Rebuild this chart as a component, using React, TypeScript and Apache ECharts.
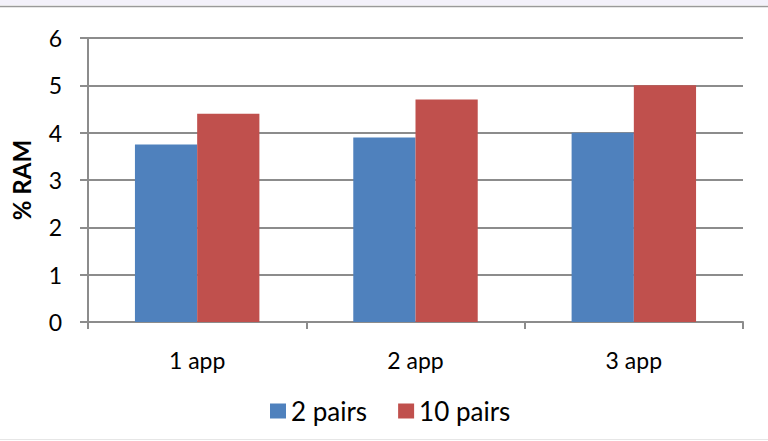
import React, { useEffect, useRef } from "react";
import * as echarts from "echarts";

const categories = ["1 app", "2 app", "3 app"];
const seriesNames = ["2 pairs", "10 pairs"];
const twoPairs = [3.75, 3.9, 4.0];
const tenPairs = [4.4, 4.7, 5.0];
const colors = ["#4F81BD", "#C0504D"];

const FONT = "Lato";

export default function App() {
  const ref = useRef<HTMLDivElement>(null);

  useEffect(() => {
    if (!ref.current) return;
    const chart = echarts.init(ref.current, undefined, { renderer: "svg" });
    chart.setOption({
      animation: false,
      backgroundColor: "#ffffff",
      textStyle: { fontFamily: FONT, color: "#000" },
      graphic: [
        { type: "rect", shape: { x: 0, y: 0, width: 768, height: 5 }, style: { fill: "#f3f1fa" } },
        { type: "line", shape: { x1: 0, y1: 6.5, x2: 768, y2: 6.5 }, style: { stroke: "#9a9a9a", lineWidth: 1.5 } },
        { type: "line", shape: { x1: 0, y1: 439.5, x2: 768, y2: 439.5 }, style: { stroke: "#e6e6e6", lineWidth: 1 } },
      ],
      grid: { left: 88, right: 25, top: 38, bottom: 119 },
      legend: {
        data: seriesNames,
        bottom: 12,
        left: 265,
        itemWidth: 16,
        itemHeight: 15,
        itemGap: 31,
        icon: "rect",
        textStyle: { fontSize: 26, fontFamily: FONT, color: "#000" },
      },
      xAxis: {
        type: "category",
        data: categories,
        axisLine: { lineStyle: { color: "#8c8c8c", width: 2 } },
        axisTick: { show: true, length: 7, lineStyle: { color: "#8c8c8c", width: 2 } },
        axisLabel: { fontSize: 23, fontFamily: FONT, color: "#000", margin: 26 },
        splitLine: { show: false },
      },
      yAxis: {
        type: "value",
        min: 0,
        max: 6,
        interval: 1,
        name: "% RAM",
        nameLocation: "middle",
        nameGap: 55,
        nameRotate: 90,
        nameTextStyle: { fontSize: 24, fontWeight: "bold", fontFamily: FONT, color: "#000" },
        axisLine: { show: true, lineStyle: { color: "#8c8c8c", width: 2 } },
        axisTick: { show: true, length: 8, lineStyle: { color: "#8c8c8c", width: 2 } },
        axisLabel: { fontSize: 23, fontFamily: FONT, color: "#000", margin: 26 },
        splitLine: { lineStyle: { color: "#8c8c8c", width: 2 } },
      },
      series: [
        {
          name: seriesNames[0],
          type: "bar",
          data: twoPairs,
          itemStyle: { color: colors[0] },
          barGap: "0%",
          barCategoryGap: "43%",
        },
        {
          name: seriesNames[1],
          type: "bar",
          data: tenPairs,
          itemStyle: { color: colors[1] },
          barGap: "0%",
          barCategoryGap: "43%",
        },
      ],
    });
    return () => chart.dispose();
  }, []);

  return (
    <div
      ref={ref}
      style={{ position: "fixed", left: 0, top: 0, width: 768, height: 441 }}
    />
  );
}
